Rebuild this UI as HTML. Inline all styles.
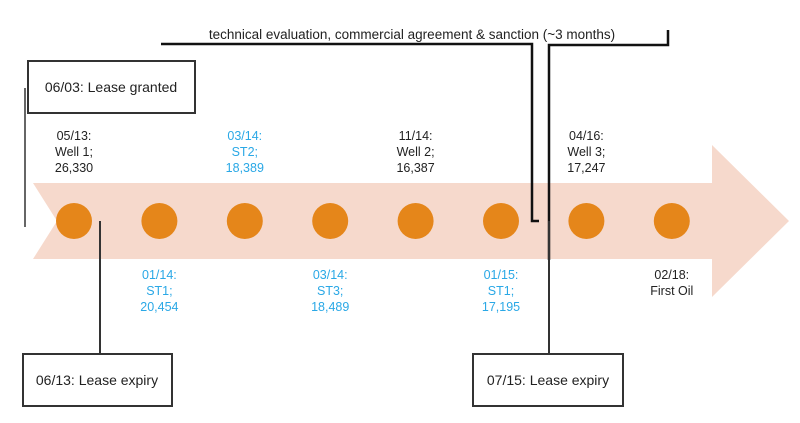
<!DOCTYPE html>
<html><head><meta charset="utf-8"><style>
html,body{margin:0;padding:0;background:#fff;}
svg{display:block;font-family:"Liberation Sans",sans-serif;}
</style></head><body>
<svg width="800" height="423" viewBox="0 0 800 423">
<polygon points="33,183 712,183 712,145 789,221 712,297 712,259 33,259 57,221" fill="#f6d9cc"/>
<g id="circles"></g>
<g id="labels" font-size="12.5" text-anchor="middle"></g>
<!-- bracket -->
<polyline points="161,44 532,44 532,221 539,221" fill="none" stroke="#111" stroke-width="2.5"/>
<polyline points="549,260 549,45 668,45 668,30" fill="none" stroke="#111" stroke-width="2.5"/>
<line x1="549" y1="221" x2="549" y2="354" stroke="#333" stroke-width="2"/>
<text x="412" y="39" font-size="13.5" text-anchor="middle" fill="#222">technical evaluation, commercial agreement &amp; sanction (~3 months)</text>
<line x1="25" y1="88" x2="25" y2="227" stroke="#333" stroke-width="1.5"/>
<rect x="28" y="61" width="167" height="52" fill="#fff" stroke="#333" stroke-width="2"/>
<text x="111" y="92" font-size="14" text-anchor="middle" fill="#222">06/03: Lease granted</text>
<line x1="100" y1="221" x2="100" y2="354" stroke="#333" stroke-width="2"/>
<rect x="23" y="354" width="149" height="52" fill="#fff" stroke="#333" stroke-width="2"/>
<text x="97" y="385" font-size="14" text-anchor="middle" fill="#222">06/13: Lease expiry</text>
<rect x="473" y="354" width="150" height="52" fill="#fff" stroke="#333" stroke-width="2"/>
<text x="548" y="385" font-size="14" text-anchor="middle" fill="#222">07/15: Lease expiry</text>
</svg>
<script>
const eventDates=["05/13:","01/14:","03/14:","03/14:","11/14:","01/15:","04/16:","02/18:"];
const eventNames=["Well 1;","ST1;","ST2;","ST3;","Well 2;","ST1;","Well 3;","First Oil"];
const eventValues=["26,330","20,454","18,389","18,489","16,387","17,195","17,247",""];
const eventPos=["above","below","above","below","above","below","above","below"];
const eventKind=["well","st","st","st","well","st","well","well"];
const ns="http://www.w3.org/2000/svg";
const x0=74,step=85.4,cy=221;
function xScale(i){return x0+i*step;}
const cg=document.getElementById('circles'),lg=document.getElementById('labels');
eventDates.forEach((d,i)=>{
  const c=document.createElementNS(ns,'circle');
  c.setAttribute('cx',xScale(i));c.setAttribute('cy',cy);c.setAttribute('r',18);
  c.setAttribute('fill','#e5861a');
  
  
  cg.appendChild(c);
  const lines=[d,eventNames[i],eventValues[i]].filter(s=>s);
  const yStart=eventPos[i]==="above"?140:279;
  const t=document.createElementNS(ns,'text');
  t.setAttribute('fill',eventKind[i]==="st"?"#2aa8e6":"#222");
  
  
  lines.forEach((s,j)=>{
    const ts=document.createElementNS(ns,'tspan');
    ts.setAttribute('x',xScale(i));ts.setAttribute('y',yStart+j*16);
    ts.textContent=s;t.appendChild(ts);
  });
  lg.appendChild(t);
});
</script>
</body></html>
